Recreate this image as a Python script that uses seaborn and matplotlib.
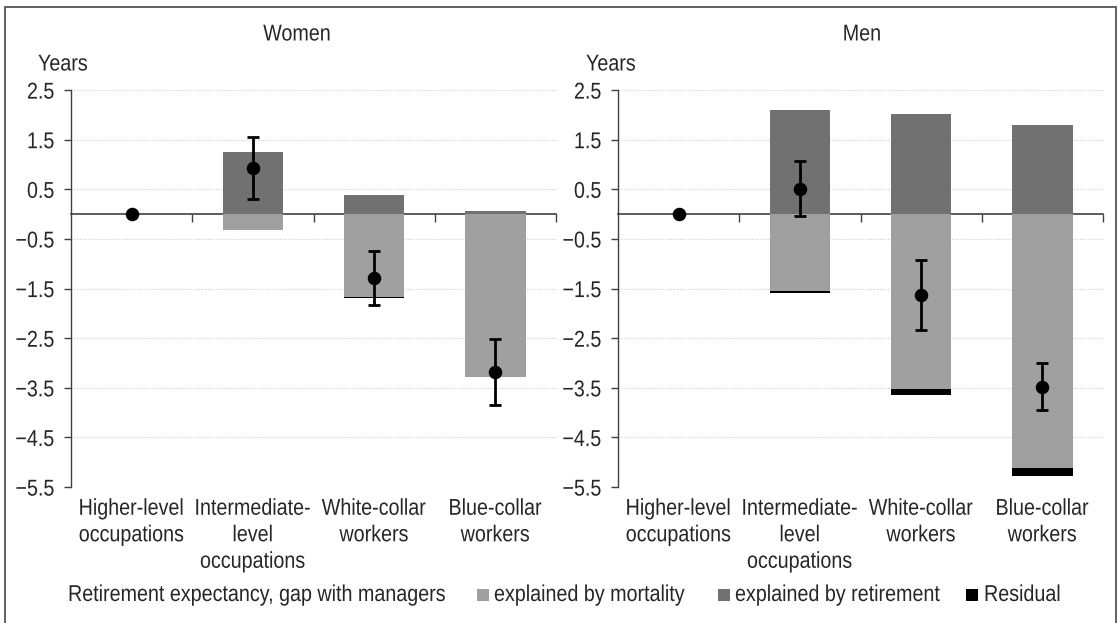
import numpy as np
import matplotlib
matplotlib.use("Agg")
import matplotlib.pyplot as plt
from matplotlib.patches import Rectangle
from matplotlib.patheffects import AbstractPathEffect
from matplotlib.transforms import Affine2D
import seaborn as sns

# ---------------- data ----------------
categories = ["Higher-level\noccupations", "Intermediate-\nlevel\noccupations",
              "White-collar\nworkers", "Blue-collar\nworkers"]
panels = ["Women", "Men"]

women_retirement = [0.0, 1.25, 0.38, 0.07]
women_mortality = [0.0, -0.32, -1.68, -3.28]
women_residual = [0.0, -0.01, -0.01, -0.01]
women_total = [0.0, 0.93, -1.29, -3.18]
women_err_low = [0.0, 0.31, -1.83, -3.85]
women_err_high = [0.0, 1.56, -0.75, -2.52]

men_retirement = [0.0, 2.10, 2.01, 1.79]
men_mortality = [0.0, -1.55, -3.53, -5.11]
men_residual = [0.0, -0.04, -0.11, -0.16]
men_total = [0.0, 0.51, -1.63, -3.48]
men_err_low = [0.0, -0.04, -2.33, -3.95]
men_err_high = [0.0, 1.07, -0.93, -3.00]

y_ticks = [2.5, 1.5, 0.5, -0.5, -1.5, -2.5, -3.5, -4.5, -5.5]
legend_title = "Retirement expectancy, gap with managers"
legend_labels = ["explained by mortality", "explained by retirement", "Residual"]

c_mort = "#a0a0a0"
c_ret = "#717171"
c_res = "#000000"
c_axis = "#404040"


# vertical stretch of glyphs: a smaller font made taller imitates a narrow typeface
class Stretch(AbstractPathEffect):
    def __init__(self, sy, about="baseline"):
        super().__init__()
        self.sy = sy
        self.about = about

    def draw_path(self, renderer, gc, tpath, affine, rgbFace=None):
        cy = 0.0
        if self.about == "center":
            ext = tpath.get_extents()
            cy = 0.5 * (ext.y0 + ext.y1)
        t = Affine2D().translate(0, -cy).scale(1, self.sy).translate(0, cy) + affine
        renderer.draw_path(gc, tpath, t, rgbFace)


# ---------------- style ----------------
sns.set_theme(style="white")
plt.rcParams["font.family"] = ["Liberation Sans", "DejaVu Sans"]
NARROW = 0.86
FS = 16.5 * NARROW
SY = 1 / NARROW

W, H = 1120, 623
fig = plt.figure(figsize=(11.2, 6.23), dpi=100)

# figure frame
fig.patches.append(Rectangle((5 / W, -0.02), (1116 - 5) / W, (1 - 7 / H) + 0.02,
                             transform=fig.transFigure, fill=False,
                             edgecolor="#555555", linewidth=1.3))

data = {
    "Women": (women_retirement, women_mortality, women_residual, women_total,
              women_err_low, women_err_high),
    "Men": (men_retirement, men_mortality, men_residual, men_total,
            men_err_low, men_err_high),
}
lefts = {"Women": 71, "Men": 618}
titles_x = {"Women": 297, "Men": 862}
years_x = {"Women": 63, "Men": 611}

for p in panels:
    ret, mort, res, tot, lo, hi = data[p]
    ax = fig.add_axes([lefts[p] / W, 1 - 487 / H, 485 / W, 397 / H])
    pos = np.arange(len(categories))
    mort_res = [m + r for m, r in zip(mort, res)]
    sns.barplot(x=categories, y=mort_res, color=c_res, width=0.5,
                linewidth=0, saturation=1, ax=ax, order=categories)
    sns.barplot(x=categories, y=mort, color=c_mort, width=0.5,
                linewidth=0, saturation=1, ax=ax, order=categories)
    sns.barplot(x=categories, y=ret, color=c_ret, width=0.5,
                linewidth=0, saturation=1, ax=ax, order=categories)
    # error bars (reference category has none)
    tot_a = np.array(tot)
    yerr = np.vstack([tot_a - np.array(lo), np.array(hi) - tot_a])
    ax.errorbar(pos[1:], tot_a[1:], yerr=yerr[:, 1:], fmt="none", ecolor="black",
                elinewidth=2, capsize=4, capthick=2, zorder=5)
    sns.scatterplot(x=pos, y=tot_a, color="black", s=95, edgecolor="black",
                    linewidth=0, zorder=6, ax=ax)

    ax.set_xlim(-0.5, 3.5)
    ax.set_ylim(-5.5, 2.5)
    ax.set_yticks(y_ticks)
    ax.set_xticks(pos)
    ax.set_xticklabels(categories, fontsize=FS, linespacing=1.5)
    ax.set_xlabel("")
    ax.set_ylabel("")
    ax.tick_params(axis="x", length=0, pad=9.2)
    ax.tick_params(axis="y", direction="out", length=5, width=1, color=c_axis,
                   labelsize=FS, pad=7, left=True)
    for s in ["top", "right", "bottom"]:
        ax.spines[s].set_visible(False)
    ax.spines["left"].set_color(c_axis)
    ax.spines["left"].set_linewidth(1)
    ax.set_axisbelow(True)
    ax.yaxis.grid(True, linestyle=(0, (1, 1.5)), color="#cccccc", linewidth=0.8)
    ax.xaxis.grid(False)

    for t in ax.get_xticklabels():
        t.set_path_effects([Stretch(SY, "baseline")])
    for t in ax.get_yticklabels():
        t.set_path_effects([Stretch(SY, "center")])

    # zero line with category-boundary ticks
    sec = ax.secondary_xaxis(5.5 / 8)
    sec.set_alignment("bottom")
    sec.set_xticks([0.5, 1.5, 2.5, 3.5])
    sec.set_xticklabels([])
    sec.spines["bottom"].set_color(c_axis)
    sec.spines["bottom"].set_linewidth(1.2)
    sec.tick_params(axis="x", direction="out", length=6, width=1, color=c_axis)

    for txt in (fig.text(titles_x[p] / W, 1 - 40.5 / H, p, ha="center", va="baseline", fontsize=FS),
                fig.text(years_x[p] / W, 1 - 70.5 / H, "Years", ha="center", va="baseline", fontsize=FS)):
        txt.set_path_effects([Stretch(SY, "baseline")])

# legend row
leg_text_x = [68, 494, 735, 984]
leg_sq_x = [477, 718, 966]
leg_colors = [c_mort, c_ret, c_res]
base_y = 1 - 601 / H
for x, lab in zip(leg_text_x, [legend_title] + legend_labels):
    t = fig.text(x / W, base_y, lab, ha="left", va="baseline", fontsize=FS)
    t.set_path_effects([Stretch(SY, "baseline")])
for x, c in zip(leg_sq_x, leg_colors):
    fig.patches.append(Rectangle((x / W, base_y), 12 / W, 12 / H, transform=fig.transFigure,
                                 facecolor=c, edgecolor="none"))

fig.savefig("out.png", dpi=100)
